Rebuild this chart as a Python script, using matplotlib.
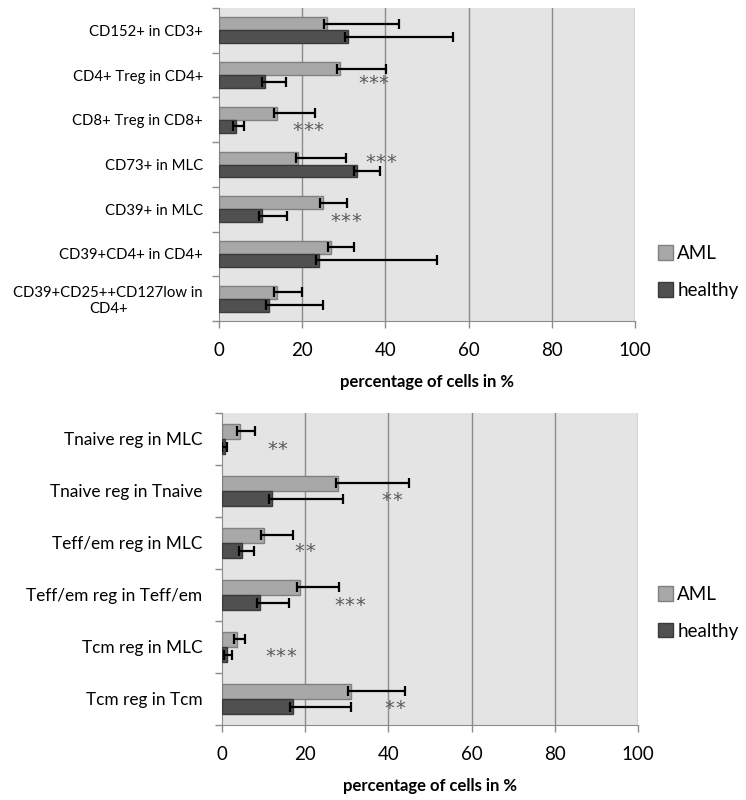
import matplotlib
matplotlib.use("Agg")
import matplotlib.pyplot as plt
from matplotlib.transforms import offset_copy
import numpy as np

plt.rcParams['font.family'] = ['Lato', 'DejaVu Sans']

# top panel
top_cats = ["CD152+ in CD3+", "CD4+ Treg in CD4+", "CD8+ Treg in CD8+", "CD73+ in MLC",
            "CD39+ in MLC", "CD39+CD4+ in CD4+", "CD39+CD25++CD127low in\nCD4+"]
top_aml = [25.9, 29.0, 14.0, 19.1, 25.0, 27.0, 14.0]
top_aml_err = [17.4, 11.2, 9.1, 11.4, 5.8, 5.5, 5.9]
top_healthy = [31.0, 11.1, 4.0, 33.2, 10.3, 24.1, 12.0]
top_healthy_err = [25.2, 5.0, 1.9, 5.6, 6.0, 28.3, 13.1]
top_stars = ["", "***", "***", "***", "***", "", ""]
top_star_x = [0, 37.1, 21.4, 38.8, 30.4, 0, 0]

# bottom panel
bot_cats = ["Tnaive reg in MLC", "Tnaive reg in Tnaive", "Teff/em reg in MLC",
            "Teff/em reg in Teff/em", "Tcm reg in MLC", "Tcm reg in Tcm"]
bot_aml = [4.3, 28.0, 10.0, 18.8, 3.7, 30.9]
bot_aml_err = [3.6, 17.0, 7.1, 9.3, 1.9, 13.0]
bot_healthy = [0.8, 12.1, 4.8, 9.1, 1.2, 17.1]
bot_healthy_err = [0.3, 17.0, 2.8, 7.0, 1.2, 14.0]
bot_stars = ["**", "**", "**", "***", "***", "**"]
bot_star_x = [13.3, 40.8, 19.9, 30.7, 14.1, 41.5]

AML_COLOR = "#a8a8a8"
AML_EDGE = "#808080"
H_COLOR = "#505050"
H_EDGE = "#3a3a3a"
BG = "#e4e4e4"
GRID = "#8c8c8c"


def draw_panel(fig, ax, cats, aml, aml_err, healthy, healthy_err, stars, star_x, star_dy,
               label_size, label_pad):
    n = len(cats)
    y = np.arange(n)
    h = 0.29
    b1 = ax.barh(y - h / 2, aml, height=h, color=AML_COLOR, edgecolor=AML_EDGE,
                 linewidth=1, label="AML", zorder=3)
    b2 = ax.barh(y + h / 2, healthy, height=h, color=H_COLOR, edgecolor=H_EDGE,
                 linewidth=1, label="healthy", zorder=3)
    lo = [0.7] * n
    ax.errorbar(aml, y - h / 2, xerr=[lo, aml_err], fmt="none", ecolor="black",
                elinewidth=1.6, capsize=3.5, capthick=1.6, zorder=4)
    ax.errorbar(healthy, y + h / 2, xerr=[lo, healthy_err], fmt="none", ecolor="black",
                elinewidth=1.6, capsize=3.5, capthick=1.6, zorder=4)
    # significance asterisks, drawn one by one so they keep a small gap
    for i, s in enumerate(stars):
        k = len(s)
        for j in range(k):
            dx = (j - (k - 1) / 2) * 7.5  # points
            tr = offset_copy(ax.transData, fig=fig, x=dx, y=0, units="points")
            ax.text(star_x[i], i + star_dy[i], "*", ha="center", va="center",
                    fontsize=14, color="#5a5a5a", family="DejaVu Sans",
                    transform=tr, zorder=5)

    ax.set_facecolor(BG)
    ax.set_xlim(0, 100)
    ax.set_ylim(n - 0.5, -0.5)
    ax.set_xticks([0, 20, 40, 60, 80, 100])
    ax.tick_params(axis="x", labelsize=13.5, length=5, color=GRID, width=1, pad=10)
    ax.set_yticks(y)
    ax.set_yticklabels(cats, fontsize=label_size)
    ax.tick_params(axis="y", length=0, pad=label_pad)
    ax.set_yticks(np.arange(n + 1) - 0.5, minor=True)
    ax.tick_params(axis="y", which="minor", length=5, color=GRID, width=1)
    for xv in [20, 40, 60, 80, 100]:
        ax.axvline(xv, color=GRID, linewidth=1, zorder=1)
    ax.spines["top"].set_visible(False)
    ax.spines["right"].set_visible(False)
    ax.spines["left"].set_color(GRID)
    ax.spines["bottom"].set_color(GRID)
    ax.set_xlabel("percentage of cells in %", fontsize=12, fontweight="bold", labelpad=11)
    for lab in ax.get_yticklabels():
        lab.set_multialignment("center")
    return b1, b2


fig = plt.figure(figsize=(7.46, 8), dpi=100)
ax1 = fig.add_axes([0.2936, 0.59875, 0.5576, 0.39125])
ax2 = fig.add_axes([0.2976, 0.09375, 0.5576, 0.39])

b1, b2 = draw_panel(fig, ax1, top_cats, top_aml, top_aml_err, top_healthy, top_healthy_err,
                    top_stars, top_star_x, [0, 0.18, 0.25, -0.05, 0.27, 0, 0], 10.7, 11.5)
draw_panel(fig, ax2, bot_cats, bot_aml, bot_aml_err, bot_healthy, bot_healthy_err,
           bot_stars, bot_star_x, [0.21, 0.19, 0.16, 0.21, 0.18, 0.18], 12.4, 14)

for yc in [0.66, 0.234]:
    fig.legend([b1, b2], ["AML", "healthy"], loc="center left",
               bbox_to_anchor=(0.874, yc), bbox_transform=fig.transFigure,
               frameon=False, fontsize=13.5, handlelength=0.8, handleheight=0.8,
               handletextpad=0.25, labelspacing=1.05, borderaxespad=0, borderpad=0.3)

fig.savefig("out.png", dpi=100)
